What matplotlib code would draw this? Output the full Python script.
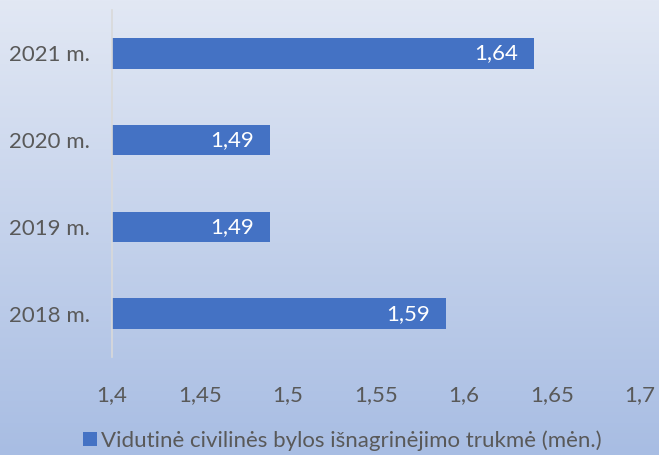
import matplotlib.pyplot as plt
import numpy as np
from matplotlib.ticker import FuncFormatter

# data
years = ["2018 m.", "2019 m.", "2020 m.", "2021 m."]
durations = [1.59, 1.49, 1.49, 1.64]
legend_label = "Vidutinė civilinės bylos išnagrinėjimo trukmė (mėn.)"
x_ticks = [1.4, 1.45, 1.5, 1.55, 1.6, 1.65, 1.7]

plt.rcParams['font.family'] = ['Lato', 'DejaVu Sans']
text_col = "#595959"
bar_col = "#4472C4"
fs = 16

fig = plt.figure(figsize=(6.59, 4.55), dpi=100)

# gradient background
bg = fig.add_axes([0, 0, 1, 1], zorder=0)
top = np.array([0xE2, 0xE8, 0xF4]) / 255
bot = np.array([0xA8, 0xBD, 0xE3]) / 255
t = np.linspace(0, 1, 256)[:, None]
grad = top * (1 - t) + bot * t
bg.imshow(grad[:, None, :], aspect='auto', extent=[0, 1, 0, 1])
bg.axis('off')

ax = fig.add_axes([112/659, 1 - 357/455, (640-112)/659, 347/455], zorder=1)
ax.patch.set_alpha(0)

y = np.arange(len(years))
bars = ax.barh(y, durations, height=0.35, left=0, color=bar_col, label=legend_label)
ax.set_xlim(1.4, 1.7)
ax.set_ylim(-0.5, len(years) - 0.5)
ax.set_yticks(y)
ax.set_yticklabels(years)
ax.set_xticks(x_ticks)
ax.xaxis.set_major_formatter(FuncFormatter(lambda v, p: ("%g" % v).replace(".", ",")))

for v, yy in zip(durations, y):
    ax.annotate(("%g" % v).replace(".", ","), (v, yy), xytext=(-12, 0),
                textcoords="offset points", ha="right", va="center",
                color="white", fontsize=fs)

for s in ["top", "right", "bottom"]:
    ax.spines[s].set_visible(False)
ax.spines["left"].set_color("#D9D9D9")
ax.spines["left"].set_linewidth(1.2)
ax.tick_params(axis="both", length=0, colors=text_col, labelsize=fs)
ax.tick_params(axis="y", pad=16)
ax.tick_params(axis="x", pad=20)

fig.legend(handles=[bars], labels=[legend_label], loc="lower center",
           bbox_to_anchor=(0.52, -0.035), frameon=False, fontsize=fs,
           labelcolor=text_col, handlelength=0.6, handleheight=0.6,
           handletextpad=0.2)

fig.savefig("out.png", dpi=100)
